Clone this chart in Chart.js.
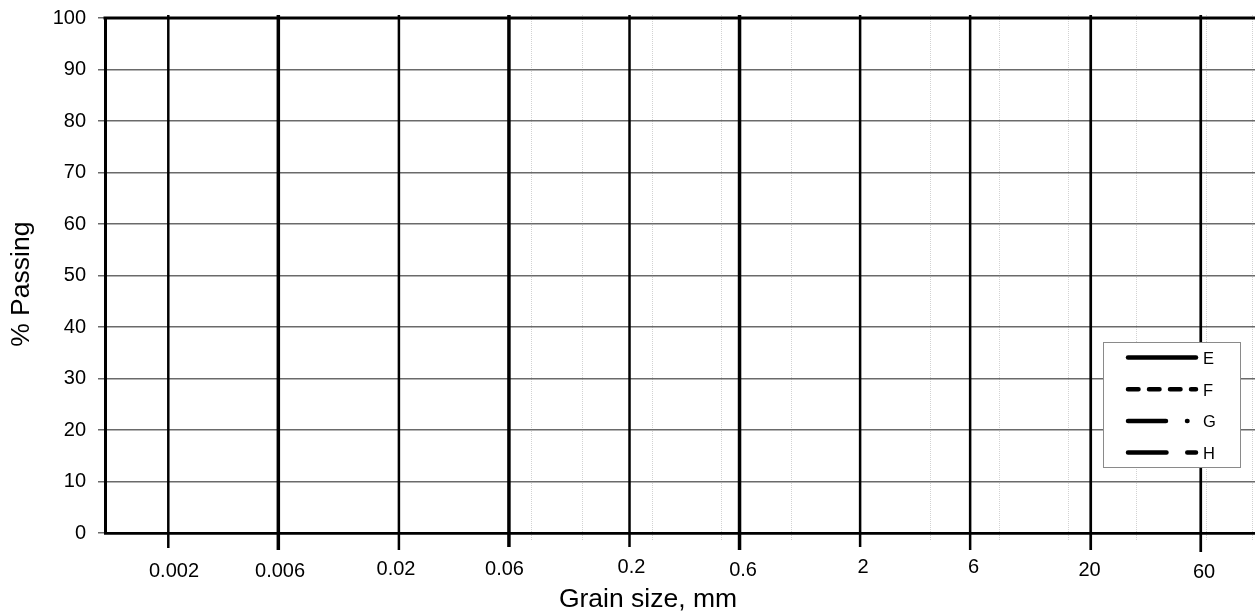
<!DOCTYPE html>
<html>
<head>
<meta charset="utf-8">
<title>Grain size distribution</title>
<script src="https://cdn.jsdelivr.net/npm/chart.js@4.4.1/dist/chart.umd.min.js"></script>
<style>
  html, body { margin: 0; padding: 0; background: #fff; overflow: hidden; }
  #wrap { position: relative; width: 1270px; height: 613px; }
</style>
</head>
<body>
<div id="wrap"><canvas id="chart"></canvas></div>
<script>
// ---- data ----------------------------------------------------------------
const seriesNames = ['E', 'F', 'G', 'H'];
const seriesE = [];
const seriesF = [];
const seriesG = [];
const seriesH = [];

// fraction boundaries (mm), drawn as heavy verticals with their labels
const boundarySizes  = [0.002, 0.006, 0.02, 0.06, 0.2, 0.6, 2, 6, 20, 60];
const boundaryLabels = ['0.002', '0.006', '0.02', '0.06', '0.2', '0.6', '2', '6', '20', '60'];

// sieve sizes (mm), drawn as light dotted verticals
const sieveSizes = [0.075, 0.125, 0.25, 0.5, 1, 2, 4, 8, 16, 31.5, 63, 100];

// % passing ticks
const passingTicks = [0, 10, 20, 30, 40, 50, 60, 70, 80, 90, 100];

// ---- styling -------------------------------------------------------------
const FONT = '"Liberation Sans", Arial, Helvetica, sans-serif';
const boundaryWidths  = [2.5, 3.5, 2.5, 3.5, 2.5, 3.5, 2.5, 2.5, 2.7, 2.7];
const boundaryTickLen = [15, 17, 17, 14, 14, 17, 14, 17, 17, 19];
const labelNudgeX     = [5.7, 1.7, -2.9, -4.4, 2, 3.5, 2.9, 3.4, -1.2, 3.3];
const labelDrop       = [44, 44, 42, 41.5, 40, 42.5, 40, 40, 43, 45];
const legendBox = { x: 1103, y: 342, w: 137, h: 125, row0: 357.5, rowGap: 31.7,
                    lineX0: 1128, lineX1: 1196, textX: 1203 };

Chart.defaults.font.family = FONT;
Chart.defaults.color = '#000';

const gradingPlugin = {
  id: 'gradingChart',
  beforeDraw(chart) {
    const { ctx, chartArea: a, scales: { x } } = chart;
    ctx.save();
    ctx.fillStyle = '#fff';
    ctx.fillRect(0, 0, chart.width, chart.height);
    // dotted sieve lines
    ctx.strokeStyle = '#d2d2d2';
    ctx.lineWidth = 1;
    ctx.setLineDash([1, 1]);
    sieveSizes.forEach(v => {
      const px = Math.round(x.getPixelForValue(v)) + 0.5;
      ctx.beginPath();
      ctx.moveTo(px, a.top - 3);
      ctx.lineTo(px, a.bottom + 7);
      ctx.stroke();
    });
    ctx.restore();
  },
  beforeDatasetsDraw(chart) {
    const { ctx, chartArea: a, scales: { x } } = chart;
    ctx.save();
    ctx.strokeStyle = '#000';
    ctx.fillStyle = '#000';
    ctx.lineCap = 'butt';
    ctx.font = '20px ' + FONT;
    ctx.textAlign = 'center';
    ctx.textBaseline = 'alphabetic';
    boundarySizes.forEach((v, i) => {
      const px = x.getPixelForValue(v);
      ctx.lineWidth = boundaryWidths[i];
      ctx.beginPath();
      ctx.moveTo(px, a.top - 3);
      ctx.lineTo(px, a.bottom + boundaryTickLen[i]);
      ctx.stroke();
      ctx.fillText(boundaryLabels[i], px + labelNudgeX[i], a.bottom + labelDrop[i]);
    });
    // top frame line
    ctx.lineWidth = 3;
    ctx.beginPath();
    ctx.moveTo(a.left - 1.5, a.top);
    ctx.lineTo(a.right, a.top);
    ctx.stroke();

    // axis titles
    ctx.font = '26.5px ' + FONT;
    ctx.textAlign = 'center';
    ctx.fillText('Grain size, mm', 648, 606.5);
    ctx.translate(29.3, 284.2);
    ctx.rotate(-Math.PI / 2);
    ctx.fillText('% Passing', 0, 0);
    ctx.restore();
  },
  afterDraw(chart) {
    const { ctx } = chart;
    const L = legendBox;
    ctx.save();
    ctx.fillStyle = '#fff';
    ctx.fillRect(L.x, L.y, L.w, L.h);
    ctx.strokeStyle = '#8a8a8a';
    ctx.lineWidth = 1;
    ctx.strokeRect(L.x + 0.5, L.y + 0.5, L.w, L.h);
    ctx.font = '16.5px ' + FONT;
    ctx.textAlign = 'left';
    ctx.textBaseline = 'alphabetic';
    chart.data.datasets.forEach((ds, i) => {
      const y = L.row0 + i * L.rowGap;
      ctx.strokeStyle = ds.borderColor;
      ctx.lineWidth = ds.borderWidth;
      ctx.lineCap = ds.borderCapStyle;
      ctx.setLineDash(ds.borderDash || []);
      ctx.beginPath();
      ctx.moveTo(L.lineX0, y);
      ctx.lineTo(L.lineX1, y);
      ctx.stroke();
      ctx.setLineDash([]);
      ctx.fillStyle = '#000';
      ctx.fillText(ds.label, L.textX, y + 6.5);
    });
    ctx.restore();
  }
};

const dashes = [[], [10.5, 10.5], [38, 21, 0.5, 40], [38.5, 20.75, 8.8, 40]];
const seriesData = [seriesE, seriesF, seriesG, seriesH];

new Chart(document.getElementById('chart'), {
  type: 'line',
  data: {
    datasets: seriesNames.map((name, i) => ({
      label: name,
      data: seriesData[i],
      borderColor: '#000',
      borderWidth: 4.5,
      borderDash: dashes[i],
      borderCapStyle: 'round',
      pointRadius: 0,
      fill: false
    }))
  },
  options: {
    responsive: true,
    maintainAspectRatio: false,
    devicePixelRatio: 1,
    animation: false,
    layout: { padding: { top: 18, right: 0, bottom: 0, left: 0 } },
    plugins: { legend: { display: false }, tooltip: { enabled: false } },
    scales: {
      x: {
        type: 'logarithmic',
        min: 0.001063,
        max: 119.8,
        ticks: { display: false },
        grid: { display: false },
        border: { display: true, color: '#000', width: 2.7 },
        afterFit(scale) { scale.height = 80; scale.paddingLeft = 0; scale.paddingRight = 0; }
      },
      y: {
        min: 0,
        max: 100,
        afterBuildTicks(scale) { scale.ticks = passingTicks.map(v => ({ value: v })); },
        ticks: { font: { size: 20 }, color: '#000', padding: 12 },
        grid: { color: '#6a6a6a', lineWidth: 1.5, tickLength: 7, tickColor: '#6a6a6a' },
        border: { display: true, color: '#000', width: 3 },
        afterFit(scale) { scale.width = 105; scale.paddingTop = 0; scale.paddingBottom = 0; }
      }
    }
  },
  plugins: [gradingPlugin]
});
</script>
</body>
</html>
